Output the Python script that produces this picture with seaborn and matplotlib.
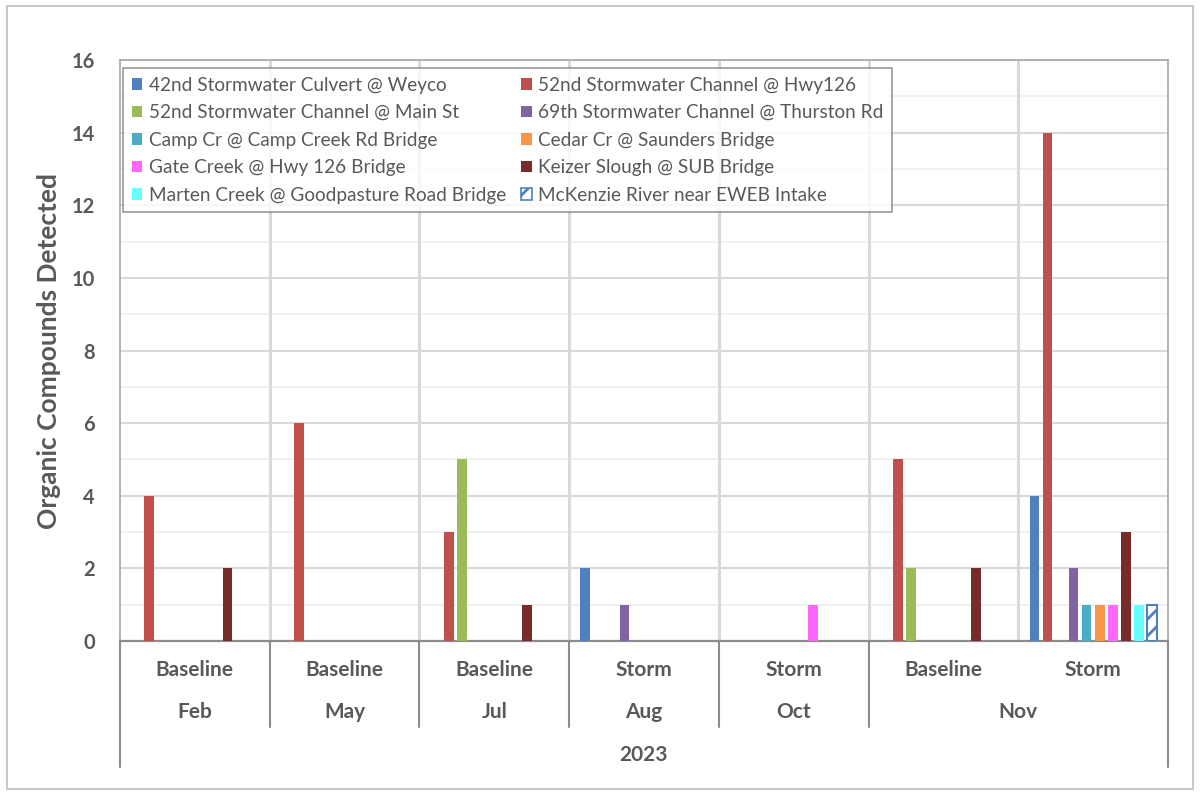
import matplotlib
matplotlib.use('Agg')
import matplotlib.pyplot as plt
import seaborn as sns
import pandas as pd
from matplotlib.patches import Patch, Rectangle
from matplotlib.transforms import blended_transform_factory

# ---- data ----
sites = [
    "42nd Stormwater Culvert @ Weyco",
    "52nd Stormwater Channel @ Hwy126",
    "52nd Stormwater Channel @ Main St",
    "69th Stormwater Channel @ Thurston Rd",
    "Camp Cr @ Camp Creek Rd Bridge",
    "Cedar Cr @ Saunders Bridge",
    "Gate Creek @ Hwy 126 Bridge",
    "Keizer Slough @ SUB Bridge",
    "Marten Creek @ Goodpasture Road Bridge",
    "McKenzie River near EWEB Intake",
]
event_types = ["Baseline", "Baseline", "Baseline", "Storm", "Storm", "Baseline", "Storm"]
months = ["Feb", "May", "Jul", "Aug", "Oct", "Nov", "Nov"]
year_label = "2023"

v_42nd = [0, 0, 0, 2, 0, 0, 4]
v_52hwy = [4, 6, 3, 0, 0, 5, 14]
v_52main = [0, 0, 5, 0, 0, 2, 0]
v_69th = [0, 0, 0, 1, 0, 0, 2]
v_camp = [0, 0, 0, 0, 0, 0, 1]
v_cedar = [0, 0, 0, 0, 0, 0, 1]
v_gate = [0, 0, 0, 0, 1, 0, 1]
v_keizer = [2, 0, 1, 0, 0, 2, 3]
v_marten = [0, 0, 0, 0, 0, 0, 1]
v_mckenzie = [0, 0, 0, 0, 0, 0, 1]
values = [v_42nd, v_52hwy, v_52main, v_69th, v_camp, v_cedar, v_gate,
          v_keizer, v_marten, v_mckenzie]

colors = ["#4F81BD", "#C0504D", "#9BBB59", "#8064A2", "#4BACC6",
          "#F79646", "#FF66FF", "#772C2A", "#66FFFF", "#4F81BD"]

group_keys = [f"{m} {e}" for m, e in zip(months, event_types)]
rows = []
for s, vals in zip(sites, values):
    for g, v in zip(group_keys, vals):
        rows.append({"group": g, "site": s, "value": v})
df = pd.DataFrame(rows)

# ---- style ----
sns.set_theme(style="white")
FONT = ["Lato", "DejaVu Sans"]
plt.rcParams["font.family"] = FONT
plt.rcParams["hatch.linewidth"] = 2.0
TXT = "#595959"

fig = plt.figure(figsize=(12, 7.95), dpi=100)
ax = fig.add_axes([0.1, 0.1937, 0.8733, 0.7308])

sns.barplot(data=df, x="group", y="value", hue="site", hue_order=sites,
            order=group_keys, palette=colors, saturation=1, width=0.87,
            gap=0.25, linewidth=0, errorbar=None, legend=False, ax=ax,
            zorder=3)

# hatched series
for bar in ax.containers[9]:
    if bar.get_height() > 0:
        bar.set_facecolor("white")
        bar.set_edgecolor(colors[9])
        bar.set_hatch("//")
        bar.set_linewidth(1.5)
    else:
        bar.set_visible(False)

ax.set_xlim(-0.5, len(group_keys) - 0.5)
ax.set_ylim(0, 16)
ax.set_yticks(range(0, 17, 2))
ax.set_yticks(range(0, 17, 1), minor=True)
ax.yaxis.grid(True, which="major", color="#d9d9d9", lw=1.5, zorder=0)
ax.yaxis.grid(True, which="minor", color="#eeeeee", lw=1.2, zorder=0)
ax.set_axisbelow(True)
for b in range(len(group_keys) - 1):
    ax.axvline(b + 0.5, color="#d9d9d9", lw=2.2, zorder=1)

ax.tick_params(axis="y", which="both", length=0, pad=18, labelsize=14.5,
               labelcolor=TXT)
for lbl in ax.get_yticklabels():
    lbl.set_fontweight("bold")
ax.set_xticks([])
ax.set_xlabel("")
ax.set_ylabel("Organic Compounds Detected", fontsize=19, fontweight="bold",
              color=TXT, labelpad=8)

for side in ["left", "top", "right"]:
    ax.spines[side].set_color("#a6a6a6")
    ax.spines[side].set_linewidth(1.2)
ax.spines["bottom"].set_color("#8c8c8c")
ax.spines["bottom"].set_linewidth(1.6)

# ---- multi-level category axis ----
tr = blended_transform_factory(ax.transData, ax.transAxes)
y1, y2, y3 = -0.050, -0.122, -0.196
ylev2_bottom, yout_bottom = -0.148, -0.217
for i, e in enumerate(event_types):
    ax.text(i, y1, e, transform=tr, ha="center", va="center", fontsize=15,
            fontweight="bold", color=TXT)
spans = []
start = 0
for i in range(1, len(months) + 1):
    if i == len(months) or months[i] != months[start]:
        spans.append((start, i - 1, months[start]))
        start = i
for a, b, m in spans:
    ax.text((a + b) / 2, y2, m, transform=tr, ha="center", va="center",
            fontsize=15, fontweight="bold", color=TXT)
ax.text((len(months) - 1) / 2, y3, year_label, transform=tr, ha="center",
        va="center", fontsize=15, fontweight="bold", color=TXT)
sep_color = "#8c8c8c"
for a, b, m in spans[1:]:
    ax.plot([a - 0.5, a - 0.5], [0, ylev2_bottom], transform=tr,
            color=sep_color, lw=1.5, clip_on=False)
for xb in (-0.5, len(months) - 0.5):
    ax.plot([xb, xb], [0, yout_bottom], transform=tr, color=sep_color,
            lw=1.5, clip_on=False)

# ---- legend ----
handles = []
for i, s in enumerate(sites):
    if i == 9:
        handles.append(Patch(facecolor="white", edgecolor=colors[i],
                             hatch="//", lw=1.2, label=s))
    else:
        handles.append(Patch(facecolor=colors[i], edgecolor="none", label=s))
order = [0, 2, 4, 6, 8, 1, 3, 5, 7, 9]
leg = ax.legend([handles[k] for k in order], [sites[k] for k in order],
                ncol=2, loc="upper left", bbox_to_anchor=(0.003, 0.986),
                borderaxespad=0, fontsize=13.7, frameon=True, fancybox=False,
                handlelength=0.55, handleheight=0.55, handletextpad=0.35,
                columnspacing=0.8, labelspacing=0.55, borderpad=0.45,
                labelcolor=TXT)
leg.get_frame().set_edgecolor("#7f7f7f")
leg.get_frame().set_linewidth(1.2)
leg.set_zorder(10)

# outer chart border
fig.patches.append(Rectangle((0.006, 0.008), 0.988, 0.984,
                             transform=fig.transFigure, fill=False,
                             edgecolor="#bfbfbf", lw=1.2))

fig.savefig("out.png", dpi=100, facecolor="white")
